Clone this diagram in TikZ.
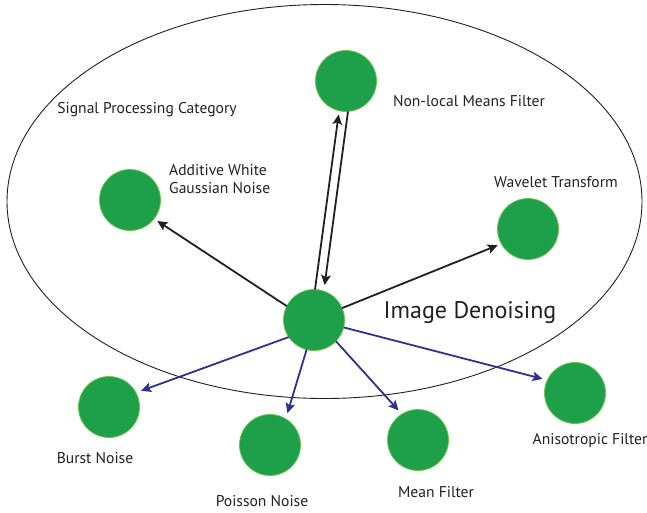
\documentclass[tikz,border=0pt]{standalone}
\usepackage{fontspec}
\setmainfont{PT Sans}
\usetikzlibrary{arrows.meta}
\definecolor{dotfill}{RGB}{30,160,74}
\definecolor{dotedge}{RGB}{110,195,75}
\definecolor{inkblack}{RGB}{35,31,32}
\definecolor{inkblue}{RGB}{46,49,146}
\tikzset{
  dot/.style={circle, minimum size=61pt, inner sep=0pt, outer sep=0pt,
              fill=dotfill, draw=dotedge, line width=0.8pt},
  lbl/.style={font=\fontsize{15.6}{18.5}\selectfont, text=inkblack, inner sep=0pt, align=left},
  blackarrow/.style={draw=inkblack, line width=1.8pt,
              -{Stealth[length=10pt,width=9.5pt,inset=2pt]}},
  bluearrow/.style={draw=inkblue, line width=1.8pt,
              -{Stealth[length=10pt,width=9.5pt,inset=2pt]}}
}
\begin{document}
\begin{tikzpicture}[x=1pt,y=-1pt]
\useasboundingbox (0,0) rectangle (647,512);
% category boundary
\draw[inkblack, line width=0.9pt] (324.5,201.5) ellipse [x radius=317.5, y radius=197];

% nodes
\node[dot] (c)     at (314,320) {};
\node[dot] (nl)    at (346,81)  {};
\node[dot] (awgn)  at (130,200) {};
\node[dot] (wav)   at (528,229) {};
\node[dot] (burst) at (109,407) {};
\node[dot] (pois)  at (270,445) {};
\node[dot] (mean)  at (418,440) {};
\node[dot] (aniso) at (575,393) {};

% labels
\node[lbl] (tcat)   at (147,110) {Signal Processing Category};
\node[lbl] (tnl)    at (469,101) {Non-local Means Filter};
\node[lbl, anchor=west] (tawgn) at (169,179) {Additive White\\Gaussian Noise};
\node[lbl] (twav)   at (556,182) {Wavelet Transform};
\node[text=inkblack, inner sep=0pt, font=\fontsize{24}{28}\selectfont] (timg) at (470,313) {Image Denoising};
\node[lbl] (tburst) at (95,458)  {Burst Noise};
\node[lbl] (tpois)  at (262,501) {Poisson Noise};
\node[lbl] (tmean)  at (436,492) {Mean Filter};
\node[lbl] (taniso) at (590,441) {Anisotropic Filter};

% connectors inside the category
\draw[blackarrow, shorten >=4pt] (c.153) -- (awgn.-38);
\draw[blackarrow, shorten >=4pt] (c.23) -- (wav.209);
\draw[blackarrow, shorten >=3pt] ([xshift=1pt]c.north) -- ([xshift=-7pt]nl.south);
\draw[blackarrow, shorten >=4.5pt] ([xshift=2pt]nl.south) -- ([xshift=10pt]c.north);

% connectors leaving the category
\draw[bluearrow, shorten >=5.5pt] (c.214) -- (burst.28);
\draw[bluearrow, shorten >=6pt] (c.256) -- (pois.59);
\draw[bluearrow, shorten >=5pt] (c.-44) -- (mean.122);
\draw[bluearrow, shorten >=5pt] (c.-14) -- (aniso.155);
\end{tikzpicture}
\end{document}
